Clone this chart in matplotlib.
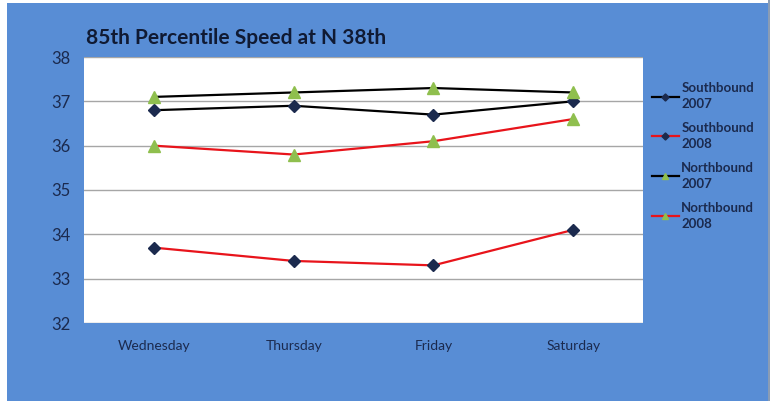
# 85th percentile speed chart.

import matplotlib
matplotlib.use("Agg")
from matplotlib import pyplot as plt
from matplotlib.patches import Rectangle

days = ["Wednesday", "Thursday", "Friday", "Saturday"]
south_2007 = [36.8, 36.9, 36.7, 37.0]
south_2008 = [33.7, 33.4, 33.3, 34.1]
north_2007 = [37.1, 37.2, 37.3, 37.2]
north_2008 = [36.0, 35.8, 36.1, 36.6]

blue_bg = "#588dd5"
navy = "#1b2a4e"
green = "#8fbf4e"

plt.rcParams["font.family"] = ["Lato", "DejaVu Sans"]

fig = plt.figure(figsize=(7.7, 4.01), dpi=100)
fig.patch.set_facecolor("white")
# blue chart area with a thin light border on the left and top
fig.patches.append(Rectangle((7 / 770, 0), 761 / 770, 1 - 3 / 401,
                             transform=fig.transFigure, facecolor=blue_bg,
                             edgecolor="none", zorder=-2))
fig.patches.append(Rectangle((768 / 770, 0), 2 / 770, 1,
                             transform=fig.transFigure, facecolor="#8a9cb4",
                             edgecolor="none", zorder=-2))

ax = fig.add_axes([84 / 770, 78 / 401, 559 / 770, 266 / 401])
ax.set_facecolor("white")
x = range(len(days))

series = [
    ("Southbound\n2007", south_2007, "black", "D", navy),
    ("Southbound\n2008", south_2008, "#e8141b", "D", navy),
    ("Northbound\n2007", north_2007, "black", "^", green),
    ("Northbound\n2008", north_2008, "#e8141b", "^", green),
]
for label, vals, lc, mk, mc in series:
    ax.plot(x, vals, color=lc, lw=1.6, marker=mk, markersize=6 if mk == "D" else 8,
            markerfacecolor=mc, markeredgecolor=mc, label=label, zorder=3)

ax.set_xlim(-0.5, 3.5)
ax.set_ylim(32, 38)
ax.set_yticks(range(32, 39))
ax.set_xticks(list(x))
ax.set_xticklabels(days)
ax.yaxis.grid(True, color="#a6a6a6", lw=1)
ax.set_axisbelow(True)
for s in ax.spines.values():
    s.set_visible(False)
ax.tick_params(axis="both", length=0, colors=navy)
ax.tick_params(axis="y", labelsize=12, pad=10)
ax.tick_params(axis="x", labelsize=10, pad=12)

fig.text(86 / 770, 1 - 38 / 401, "85th Percentile Speed at N 38th",
         fontsize=15, fontweight="bold", color="#101a33", va="center")

leg = ax.legend(loc="upper left", bbox_to_anchor=(1.0, 0.94), frameon=False,
                fontsize=9.5, labelspacing=0.9, handlelength=2.0,
                handletextpad=0.2, borderaxespad=0.3, markerscale=0.6)
for t in leg.get_texts():
    t.set_color(navy)
    t.set_fontweight("bold")
    t.set_linespacing(1.4)

fig.savefig("out.png", dpi=100, facecolor=fig.get_facecolor())
